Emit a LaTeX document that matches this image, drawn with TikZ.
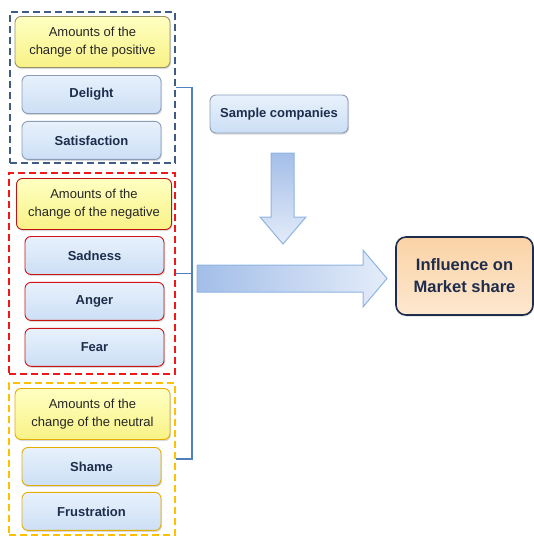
\documentclass[tikz,border=0pt]{standalone}
\usepackage{fontspec}
\setmainfont{Liberation Sans}
\usetikzlibrary{positioning,shadows}

\definecolor{posline}{HTML}{3E5C85}
\definecolor{negline}{HTML}{F01818}
\definecolor{neuline}{HTML}{FFC000}
\definecolor{yeltop}{HTML}{FFFFC2}
\definecolor{yelbot}{HTML}{F8F286}
\definecolor{blutop}{HTML}{E8F1FC}
\definecolor{blubot}{HTML}{CCDFF5}
\definecolor{labtxt}{HTML}{1F2D4D}
\definecolor{brkline}{HTML}{4F7FBF}
\definecolor{arrline}{HTML}{8EB4E3}
\definecolor{arrdark}{HTML}{A3BEE8}
\definecolor{arrlight}{HTML}{E4ECF9}
\definecolor{inftop}{HTML}{FBD3A6}
\definecolor{infbot}{HTML}{FDE8CF}

\begin{document}
\begin{tikzpicture}[x=1pt,y=1pt,
    grp/.style={line width=1.8pt,dash pattern=on 7pt off 4pt,inner sep=0pt},
    amt/.style={draw,line width=0.9pt,rounded corners=6pt,top color=yeltop,bottom color=yelbot,
      drop shadow={opacity=0.3,shadow xshift=1pt,shadow yshift=-1.5pt},
      minimum width=155pt,minimum height=51pt,align=center,text=black!85,
      font=\fontsize{13}{18.5}\selectfont},
    emo/.style={draw,line width=0.9pt,rounded corners=6pt,top color=blutop,bottom color=blubot,
      drop shadow={opacity=0.3,shadow xshift=1pt,shadow yshift=-1.5pt},
      minimum width=139pt,minimum height=38pt,text=labtxt,
      font=\fontsize{13}{15}\selectfont\bfseries},
    fat/.style={draw=arrline,line width=1pt},
    brk/.style={draw=brkline,line width=1.3pt}]
  \useasboundingbox (0,0) rectangle (534,-536);

  % positive
  \node[grp,draw=posline,minimum width=165pt,minimum height=151pt] (pos) at (92.5,-87.5) {};
  \node[amt,draw=black!45!yellow!60!gray] (amtpos) at (92.5,-42) {Amounts of the\\change of the positive};
  \node[emo,draw=posline!60] (del) at (91.5,-94.5) {Delight};
  \node[emo,draw=posline!60] (sat) [below=7pt of del] {Satisfaction};

  % negative
  \node[grp,draw=negline,minimum width=166pt,minimum height=201pt] (neg) at (92,-273.5) {};
  \node[amt,draw=negline!80!black] (amtneg) at (94,-204) {Amounts of the\\change of the negative};
  \node[emo,draw=negline!85!black] (sad) at (94.5,-255.5) {Sadness};
  \node[emo,draw=negline!85!black] (ang) [below=7pt of sad] {Anger};
  \node[emo,draw=negline!85!black] (fea) [below=7pt of ang] {Fear};

  % neutral
  \node[grp,draw=neuline,minimum width=166pt,minimum height=152pt] (neu) at (92,-459) {};
  \node[amt,draw=neuline!90!black] (amtneu) at (92.5,-414) {Amounts of the\\change of the neutral};
  \node[emo,draw=neuline!90!black] (sha) at (91.5,-466.5) {Shame};
  \node[emo,draw=neuline!90!black] (fru) [below=6pt of sha] {Frustration};

  % bracket
  \draw[brk] (pos.east) -- ++(16,0) coordinate (btop) |- (neu.east);
  \draw[brk] (neg.east) -- (neg.east -| btop);

  % right side
  \node[emo,draw=posline!60,minimum width=138pt] (smp) at (279,-114) {Sample companies};
  \node[draw=labtxt,line width=1.6pt,rounded corners=10pt,top color=inftop,bottom color=infbot,
    drop shadow={opacity=0.3,shadow xshift=1pt,shadow yshift=-1.5pt},
    minimum width=137pt,minimum height=78pt,align=center,text=labtxt,
    font=\fontsize{16.5}{22}\selectfont\bfseries] (inf) at (464.5,-276) {Influence on\\Market share};

  % fat arrows
  \path[fat,top color=arrdark,bottom color=arrlight]
    (271,-153) -- (294,-153) -- (294,-217) -- (306,-217) -- (283,-244)
    -- (260,-217) -- (271,-217) -- cycle;
  \path[fat,left color=arrdark,right color=arrlight]
    (197,-265) -- (363,-265) -- (363,-250) -- (387,-278.5) -- (363,-307)
    -- (363,-292) -- (197,-292) -- cycle;
\end{tikzpicture}
\end{document}
